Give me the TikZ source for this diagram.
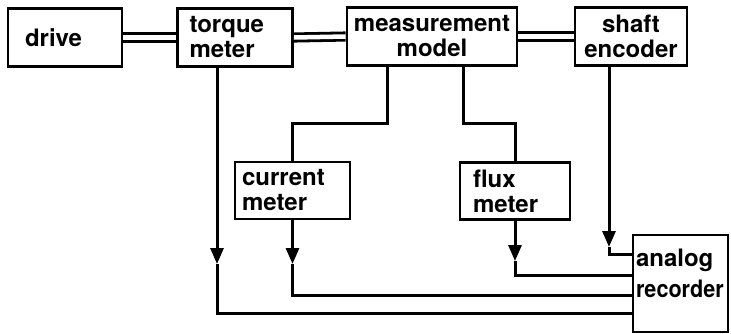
\documentclass[tikz,border=0pt]{standalone}
\usepackage{fontspec}
\setmainfont{TeX Gyre Heros}
\usetikzlibrary{arrows.meta}

\begin{document}
\begin{tikzpicture}[x=1pt,y=-1pt,>={Triangle[length=16pt,width=13pt]}]
  \tikzset{
    unit/.style={draw,line width=2.8pt,inner sep=0pt,minimum height=58pt,align=left,
      font=\fontsize{24}{25}\selectfont\bfseries},
    coupling/.style={double,double distance=4.5pt,line width=2.8pt},
    sig/.style={line width=3pt}
  }
  \useasboundingbox (0,0) rectangle (731,333);

  % machine line
  \node[unit,minimum width=114pt,text width=80pt] (drv) at (65,37.5) {drive};
  \node[unit,minimum width=115pt,text width=91pt] (tm) at (235,37.5) {torque\\meter};
  \node[unit,minimum width=170pt,text width=164pt,align=center] (mm) at (432,36.5) {measurement\\model};
  \node[unit,minimum width=112pt,text width=102pt,align=center] (se) at (631,36.5) {shaft\\encoder};
  \draw[coupling] (drv.east) -- (tm.west);
  \draw[coupling] (tm.east) -- (mm.west);
  \draw[coupling] (mm.east) -- (se.west);

  % meters and recorder
  \node[unit,minimum width=115pt,minimum height=57pt,text width=101pt] (cm) at (292.5,190.5) {current\\meter};
  \node[unit,minimum width=110pt,minimum height=57pt,text width=84pt] (fm) at (515,191) {flux\\meter};
  \node[unit,minimum width=95pt,minimum height=97pt,font=\fontsize{24}{31}\selectfont\bfseries] (rec) at (680.5,283.5)
    {\parbox[c][69pt][t]{89pt}{analog\\\scalebox{.9}[1]{recorder}}};

  \coordinate (mA) at (387,123);
  \coordinate (mB) at (463,123);
  \draw[sig] (mm.south -| mA) -- (mA) -| (cm.north);
  \draw[sig] (mm.south -| mB) -- (mB) -| (fm.north);

  % signals to the recorder
  \coordinate (ta) at (217,264);
  \coordinate (ca) at (cm.south |- ta);
  \coordinate (fa) at (fm.south |- 0,261);
  \coordinate (sa) at (609,247);
  \coordinate (rT) at (rec.west |- 0,313);
  \coordinate (rC) at (rec.west |- 0,295);
  \coordinate (rF) at (rec.west |- 0,275);
  \coordinate (rS) at (rec.west |- 0,254);
  \draw[sig,->] (tm.south -| ta) -- (ta);
  \draw[sig] (ta) |- (rT);
  \draw[sig,->] (cm.south) -- (ca);
  \draw[sig] (ca) |- (rC);
  \draw[sig,->] (fm.south) -- (fa);
  \draw[sig] (fa) |- (rF);
  \draw[sig,->] (se.south -| sa) -- (sa);
  \draw[sig] (sa) |- (rS);
\end{tikzpicture}
\end{document}
